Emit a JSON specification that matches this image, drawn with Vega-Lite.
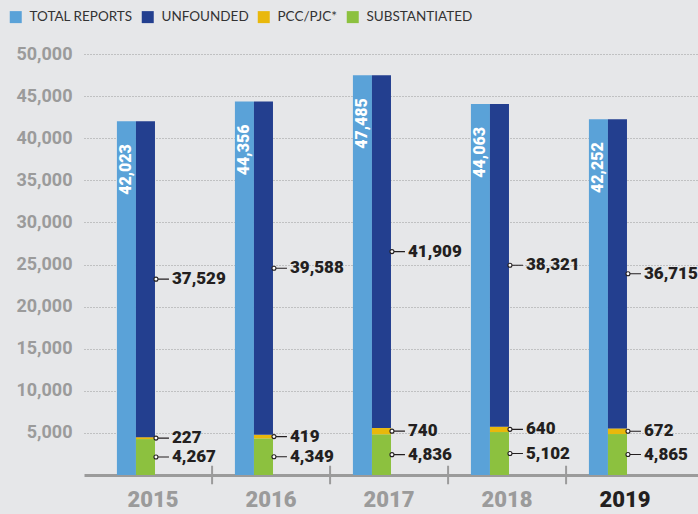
{
  "$schema": "https://vega.github.io/schema/vega-lite/v6.json",
  "width": 614,
  "height": 421,
  "autosize": {"type": "none"},
  "padding": {"left": 84, "top": 54, "right": 0, "bottom": 39},
  "background": "#e6e7e9",
  "config": {
    "view": {"stroke": null},
    "font": "Roboto",
    "axisX": {
      "domainColor": "#9b9b9b",
      "domainWidth": 3,
      "ticks": false,
      "labelPadding": 14,
      "labelFontSize": 22,
      "labelFont": "Roboto",
      "labelFontWeight": 900,
      "labelAngle": 0,
      "grid": false,
      "zindex": 1
    },
    "axisY": {
      "domain": false,
      "ticks": false,
      "labelPadding": 12,
      "labelFont": "Roboto",
      "labelFontWeight": 700,
      "labelFontSize": 18,
      "labelColor": "#9b9b9b",
      "labelFlush": false,
      "labelOverlap": false,
      "labelExpr": "format(datum.value, ',')",
      "gridColor": "#9b9b9b",
      "gridDash": [1, 2],
      "gridWidth": 1
    }
  },
  "data": {
    "values": [
      {"year": "2015", "category": "Total Reports", "group": "Total", "count": 42023},
      {"year": "2015", "category": "Substantiated", "group": "Breakdown", "count": 4267},
      {"year": "2015", "category": "PCC/PJC*", "group": "Breakdown", "count": 227},
      {"year": "2015", "category": "Unfounded", "group": "Breakdown", "count": 37529},
      {"year": "2016", "category": "Total Reports", "group": "Total", "count": 44356},
      {"year": "2016", "category": "Substantiated", "group": "Breakdown", "count": 4349},
      {"year": "2016", "category": "PCC/PJC*", "group": "Breakdown", "count": 419},
      {"year": "2016", "category": "Unfounded", "group": "Breakdown", "count": 39588},
      {"year": "2017", "category": "Total Reports", "group": "Total", "count": 47485},
      {"year": "2017", "category": "Substantiated", "group": "Breakdown", "count": 4836},
      {"year": "2017", "category": "PCC/PJC*", "group": "Breakdown", "count": 740},
      {"year": "2017", "category": "Unfounded", "group": "Breakdown", "count": 41909},
      {"year": "2018", "category": "Total Reports", "group": "Total", "count": 44063},
      {"year": "2018", "category": "Substantiated", "group": "Breakdown", "count": 5102},
      {"year": "2018", "category": "PCC/PJC*", "group": "Breakdown", "count": 640},
      {"year": "2018", "category": "Unfounded", "group": "Breakdown", "count": 38321},
      {"year": "2019", "category": "Total Reports", "group": "Total", "count": 42252},
      {"year": "2019", "category": "Substantiated", "group": "Breakdown", "count": 4865},
      {"year": "2019", "category": "PCC/PJC*", "group": "Breakdown", "count": 672},
      {"year": "2019", "category": "Unfounded", "group": "Breakdown", "count": 36715}
    ]
  },
  "transform": [
    {"stack": "count", "groupby": ["year", "group"], "as": ["y0", "y1"]}
  ],
  "encoding": {
    "x": {
      "field": "year",
      "type": "nominal",
      "title": null,
      "scale": {"paddingInner": 0, "paddingOuter": 0.1017, "align": 0.42},
      "axis": {
        "labelColor": {"condition": {"test": "datum.value == '2019'", "value": "#231f20"}, "value": "#9b9b9b"}
      }
    }
  },
  "layer": [
    {
      "mark": {"type": "bar"},
      "encoding": {
        "xOffset": {
          "field": "group",
          "type": "nominal",
          "scale": {"domain": ["p", "Total", "Breakdown", "l1", "l2", "l3"], "paddingInner": 0, "paddingOuter": 0.1, "align": 1}
        },
        "y": {
          "field": "y1",
          "type": "quantitative",
          "title": null,
          "scale": {"domain": [0, 50000], "nice": false},
          "axis": {"values": [5000, 10000, 15000, 20000, 25000, 30000, 35000, 40000, 45000, 50000]}
        },
        "y2": {"field": "y0"},
        "color": {
          "field": "category",
          "type": "nominal",
          "scale": {
            "domain": ["Total Reports", "Unfounded", "PCC/PJC*", "Substantiated"],
            "range": ["#5aa2d8", "#233f8f", "#e9b80c", "#8cc13f"]
          },
          "legend": {
            "orient": "none",
            "legendX": -75,
            "legendY": -44,
            "direction": "horizontal",
            "title": null,
            "symbolType": "square",
            "symbolSize": 144,
            "symbolStrokeWidth": 0,
            "symbolOpacity": 1,
            "labelFont": "Lato",
            "labelFontSize": 13.5,
            "labelColor": "#333333",
            "labelExpr": "upper(datum.label)",
            "columnPadding": 8,
            "labelOffset": 7,
            "padding": 0
          }
        }
      }
    },
    {
      "transform": [{"filter": "datum.group == 'Total' && datum.year != '2015'"}],
      "mark": {"type": "rule", "stroke": "#9b9b9b", "strokeWidth": 2},
      "encoding": {
        "x": {"field": "year", "type": "nominal", "bandPosition": 0},
        "y": {"datum": -1100},
        "y2": {"datum": 1100}
      }
    },
    {
      "transform": [{"filter": "datum.group == 'Total'"}],
      "mark": {"type": "text", "angle": 270, "align": "right", "baseline": "middle", "dx": -23, "color": "#ffffff", "font": "Roboto", "fontWeight": 900, "fontSize": 16},
      "encoding": {
        "xOffset": {"field": "group", "type": "nominal"},
        "y": {"field": "y1", "type": "quantitative", "title": null},
        "text": {"field": "count", "type": "quantitative", "format": ","}
      }
    },
    {
      "transform": [
        {"filter": "datum.group == 'Breakdown'"},
        {"fold": ["y0", "y1"], "as": ["edge", "ypos"]}
      ],
      "encoding": {
        "xOffset": {"field": "group", "type": "nominal"},
        "y": {"field": "ypos", "type": "quantitative", "aggregate": "mean", "title": null},
        "detail": {"field": "category"}
      },
      "layer": [
        {
          "mark": {"type": "point", "shape": "M12.5,0L23.5,0M12.5,0A2,2,0,1,1,8.5,0A2,2,0,1,1,12.5,0Z", "size": 4, "filled": true, "fill": "#ffffff", "fillOpacity": 1, "stroke": "#231f20", "strokeWidth": 1.1, "opacity": 1}
        },
        {
          "mark": {"type": "text", "align": "left", "baseline": "middle", "dx": 26.5, "font": "Roboto", "fontWeight": 900, "fontSize": 17, "color": "#231f20"},
          "encoding": {"text": {"field": "count", "type": "quantitative", "format": ","}}
        }
      ]
    }
  ]
}
